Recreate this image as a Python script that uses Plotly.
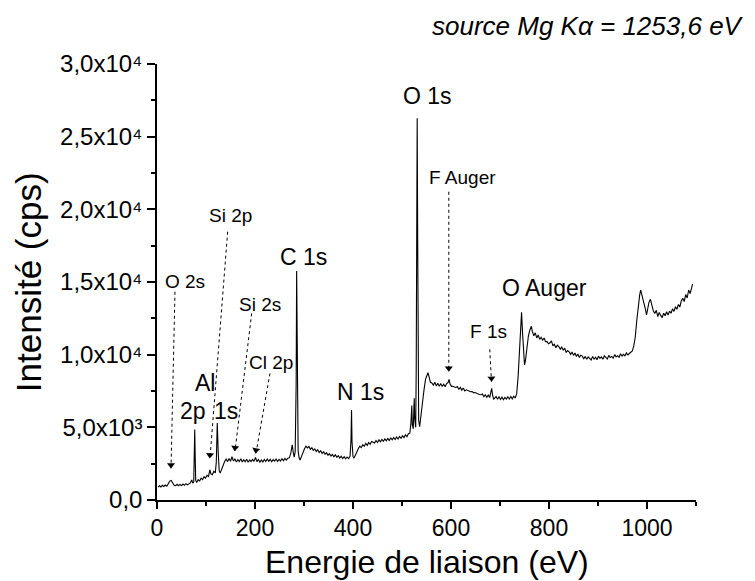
import plotly.graph_objects as go

# Binding energy (eV) and intensity (cps)
energy = [
    2, 5, 8, 11, 14, 17, 20, 23, 26, 29, 32, 35, 38, 41, 44, 47, 50, 53, 56, 59, 62, 65, 68, 71, 73,
    75, 76, 77, 78, 79, 81, 84, 87, 90, 93, 96, 99, 102, 105, 108, 110, 113, 116, 119, 121, 123, 125, 127, 129,
    132, 135, 138, 141, 144, 147, 150, 153, 156, 159, 162, 165, 168, 171, 174, 177, 180, 183, 186, 189, 192,
    195, 198, 201, 204, 207, 210, 213, 216, 219, 222, 225, 228, 231, 234, 237, 240, 243, 246, 249, 252,
    255, 258, 261, 264, 267, 270, 273, 276, 278, 280, 282, 284, 285, 286, 288, 290, 292, 295, 298, 301,
    304, 307, 310, 313, 316, 319, 322, 325, 328, 331, 334, 337, 340, 343, 346, 349, 352, 355, 358, 361,
    364, 367, 370, 373, 376, 379, 382, 385, 388, 391, 394, 396, 397, 398, 400, 402, 405, 408, 411, 414,
    417, 420, 423, 426, 429, 432, 435, 438, 441, 444, 447, 450, 453, 456, 459, 462, 465, 468, 471, 474,
    477, 480, 483, 486, 489, 492, 495, 498, 501, 504, 507, 510, 513, 516, 518, 520, 521, 523, 524, 525,
    526, 528, 529, 530, 531, 532, 533, 534, 536, 539, 542, 545, 548, 551, 553, 555, 558, 561, 564, 567,
    570, 573, 576, 579, 582, 585, 588, 591, 594, 596, 598, 601, 604, 607, 610, 613, 616, 619, 622, 625,
    628, 631, 634, 637, 640, 643, 646, 649, 652, 655, 658, 661, 664, 667, 670, 673, 676, 679, 681, 683,
    685, 687, 689, 692, 695, 698, 701, 704, 707, 710, 713, 716, 719, 722, 725, 728, 731, 734, 737, 740,
    742, 744, 746, 748, 750, 752, 755, 758, 761, 764, 766, 769, 772, 775, 778, 781, 784, 787, 790, 793,
    796, 799, 802, 805, 808, 811, 814, 817, 820, 823, 826, 829, 832, 835, 838, 841, 844, 847, 850, 853,
    856, 859, 862, 865, 868, 871, 874, 877, 880, 883, 886, 889, 892, 895, 898, 901, 904, 907, 910, 913,
    916, 919, 922, 925, 928, 931, 934, 937, 940, 943, 946, 949, 952, 955, 958, 961, 964, 967, 970, 973,
    976, 979, 982, 985, 987, 989, 991, 993, 995, 997, 999, 1001, 1004, 1007, 1010, 1013, 1016, 1019, 1022, 1025,
    1028, 1031, 1034, 1037, 1040, 1043, 1046, 1049, 1052, 1055, 1058, 1061, 1064, 1067, 1070, 1073, 1076, 1079, 1082, 1085,
    1088, 1091, 1093,
]
intensity = [
    880, 980, 900, 1010, 930, 1030, 950, 1090, 1300, 1340, 1150, 1020, 990, 1080, 980, 1070, 990, 1100, 1010, 1120, 1040, 1140, 1180, 1380, 1160,
    1250, 2600, 4850, 2900, 1350, 1200, 1400, 1310, 1500, 1400, 1600, 1500, 1700, 1620, 2080, 1800, 1740, 1980, 1860, 2600, 5300, 3200, 2000, 1850,
    2150, 2400, 2650, 2820, 2640, 2850, 2660, 2980, 2680, 2820, 2620, 2780, 2650, 2840, 2610, 2770, 2630, 2800, 2600, 2760, 2640,
    2790, 2660, 2920, 2640, 2780, 2600, 2760, 2620, 2790, 2650, 2820, 2660, 2800, 2630, 2780, 2670, 2820, 2650, 2800, 2680,
    2840, 2700, 2860, 2740, 2880, 2900, 3200, 3800, 3300, 2950, 3300, 8000, 15750, 9000, 3400, 2900, 2750, 3000, 3350, 3520,
    3700, 3580, 3680, 3490, 3600, 3420, 3520, 3340, 3460, 3270, 3390, 3200, 3320, 3140, 3260, 3080, 3190, 3020, 3140, 2980,
    3110, 2940, 3050, 2890, 3020, 2850, 2980, 2830, 2960, 2850, 3000, 4200, 6200, 4000, 3000, 2880, 3100, 3350, 3550, 3700,
    3600, 3810, 3690, 3900, 3760, 3960, 3830, 4020, 3960, 3920, 4100, 3960, 4140, 4000, 4170, 4040, 4200, 4080, 4240, 4100,
    4270, 4140, 4300, 4160, 4340, 4200, 4370, 4240, 4420, 4290, 4490, 4360, 4560, 4600, 5200, 6500, 5200, 4900, 6000, 7000,
    5600, 5000, 9000, 20000, 26260, 18000, 9000, 5500, 5040, 6000, 6800, 7600, 8300, 8600, 8760, 8500, 8100, 8050, 7900, 8100,
    7850, 8030, 7820, 8000, 7830, 7970, 7800, 8010, 8080, 8300, 8000, 7820, 7830, 7780, 7750, 7810, 7600, 7750, 7560, 7710,
    7500, 7580, 7530, 7500, 7450, 7460, 7380, 7390, 7330, 7320, 7260, 7240, 7290, 7100, 7240, 7070, 7220, 7050, 7300, 7680,
    7200, 6950, 7000, 7120, 6930, 7100, 6920, 7080, 6900, 7060, 6940, 7100, 6950, 7120, 6960, 7140, 7020, 7300, 8500, 10500,
    12000, 12910, 11500, 10000, 9300, 9600, 10500, 11300, 11700, 11950, 11600, 11300, 11500, 11150, 11350, 11050, 11200, 11000, 11150, 10900,
    10900, 10750, 10820, 10950, 10600, 10720, 10480, 10650, 10560, 10380, 10520, 10300, 10450, 10150, 10280, 10200, 10020, 10180, 9950, 10120,
    9870, 10050, 9800, 9960, 9900, 9720, 9880, 9680, 9850, 9760, 9640, 9880, 9700, 9820, 9650, 9900, 9740, 9850, 9690, 9920,
    9780, 9700, 9950, 9800, 9880, 9760, 10000, 9850, 9930, 9820, 10060, 9900, 10020, 9920, 10120, 9980, 10080, 10150, 10250, 10600,
    11200, 12300, 13300, 14100, 14450, 14200, 13900, 13600, 13500, 13100, 12730, 13200, 13600, 13810, 13400, 13000, 12840, 13050, 12620, 12900,
    12700, 12550, 12850, 12680, 12950, 12720, 13000, 12850, 13150, 12980, 13300, 13120, 13450, 13280, 13700, 13880, 13650, 14150, 13900, 14450,
    14200, 14700, 14860,
]
assert len(energy) == len(intensity)

# Axis ticks
x_tickvals = [0, 200, 400, 600, 800, 1000]
x_ticktext = ["0", "200", "400", "600", "800", "1000"]
y_tickvals = [0, 5000, 10000, 15000, 20000, 25000, 30000]
y_ticktext = ["0,0", "5,0x10\u00b3", "1,0x10\u2074", "1,5x10\u2074",
              "2,0x10\u2074", "2,5x10\u2074", "3,0x10\u2074"]

# Peak labels without arrows: text, x (eV), y (cps), font size
plain_labels = [
    ("O 1s", 553, 27800, 23),
    ("C 1s", 298, 16700, 23),
    ("N 1s", 415, 7450, 23),
    ("Al", 98, 8030, 23),
    ("2p", 73, 6140, 23),
    ("1s", 141, 6140, 23),
    ("O Auger", 791, 14610, 23),
]

# Labels with dotted arrows: text, label x, label y, line start x, start y, tip x, tip y, head angle
arrow_labels = [
    ("O 2s", 57, 15020, 36.7, 14330, 28.6, 2180, 1),
    ("Si 2p", 149, 19610, 144.2, 18460, 108.1, 2870, 4),
    ("Si 2s", 210, 13480, 193.2, 12840, 159.2, 3370, 7),
    ("Cl 2p", 232, 9450, 230.5, 8710, 202.0, 3210, 10),
    ("F Auger", 623, 22200, 595.5, 21210, 595.5, 8830, 0),
    ("F 1s", 676, 11580, 679.1, 10370, 682.6, 8140, -3),
]

FONT = "Liberation Sans, Arial, sans-serif"

fig = go.Figure()
fig.add_trace(go.Scatter(x=energy, y=intensity, mode="lines",
                         line=dict(color="black", width=1.1), showlegend=False,
                         hoverinfo="skip"))

annotations = []
shapes = []
for text, x, y, size in plain_labels:
    annotations.append(dict(x=x, y=y, xref="x", yref="y", text=text, showarrow=False,
                            font=dict(size=size, color="black", family=FONT)))

head_x, head_y, head_angle = [], [], []
for text, lx, ly, sx, sy, tx, ty, ang in arrow_labels:
    annotations.append(dict(x=lx, y=ly, xref="x", yref="y", text=text, showarrow=False,
                            font=dict(size=19, color="black", family=FONT)))
    shapes.append(dict(type="line", xref="x", yref="y", x0=sx, y0=sy, x1=tx, y1=ty,
                       line=dict(color="black", width=1, dash="dot")))
    head_x.append(tx)
    head_y.append(ty + 230)  # marker centre sits just above the tip
    head_angle.append(ang)

# arrow heads drawn as small triangle markers
fig.add_trace(go.Scatter(x=head_x, y=head_y, mode="markers", showlegend=False, hoverinfo="skip",
                         marker=dict(symbol="triangle-down", size=7, color="black",
                                     angle=head_angle, line=dict(width=0))))

# source annotation (top right)
annotations.append(dict(x=1.093, y=1.087, xref="paper", yref="paper", xanchor="right",
                        yanchor="middle", showarrow=False,
                        text="<i>source Mg K\u03b1 = 1253,6 eV</i>",
                        font=dict(size=26, color="black", family=FONT)))
# axis titles
annotations.append(dict(x=0.5, y=-0.142, xref="paper", yref="paper", xanchor="center",
                        yanchor="middle", showarrow=False, text="Energie de liaison (eV)",
                        font=dict(size=32, color="black", family=FONT)))
annotations.append(dict(x=-0.239, y=0.5, xref="paper", yref="paper", xanchor="center",
                        yanchor="middle", showarrow=False, text="Intensité (cps)", textangle=-90,
                        font=dict(size=35, color="black", family=FONT)))

# The page body has an 8 px margin, so the figure is sized to fit the window.
fig.update_layout(
    width=747, height=573,
    margin=dict(l=149, r=59, t=56, b=81),
    paper_bgcolor="white", plot_bgcolor="white",
    font=dict(family=FONT, color="black"),
    annotations=annotations, shapes=shapes,
    xaxis=dict(range=[0, 1100], tickvals=x_tickvals, ticktext=x_ticktext, automargin=False,
               showgrid=False, zeroline=False, showline=True, linecolor="black", linewidth=1.5,
               ticks="outside", ticklen=7, tickwidth=1.5, tickcolor="black",
               tickfont=dict(size=23, family=FONT, color="black"),
               minor=dict(ticks="outside", ticklen=4, tickwidth=1.5, tickcolor="black", dtick=100, tick0=0)),
    yaxis=dict(range=[0, 30000], tickvals=y_tickvals, ticktext=y_ticktext, automargin=False,
               showgrid=False, zeroline=False, showline=True, linecolor="black", linewidth=1.5,
               ticks="outside", ticklen=8, tickwidth=1.5, tickcolor="black",
               tickfont=dict(size=24, family=FONT, color="black"),
               minor=dict(ticks="outside", ticklen=4, tickwidth=1.5, tickcolor="black", dtick=2500, tick0=0)),
)

fig.write_html("out.html")
